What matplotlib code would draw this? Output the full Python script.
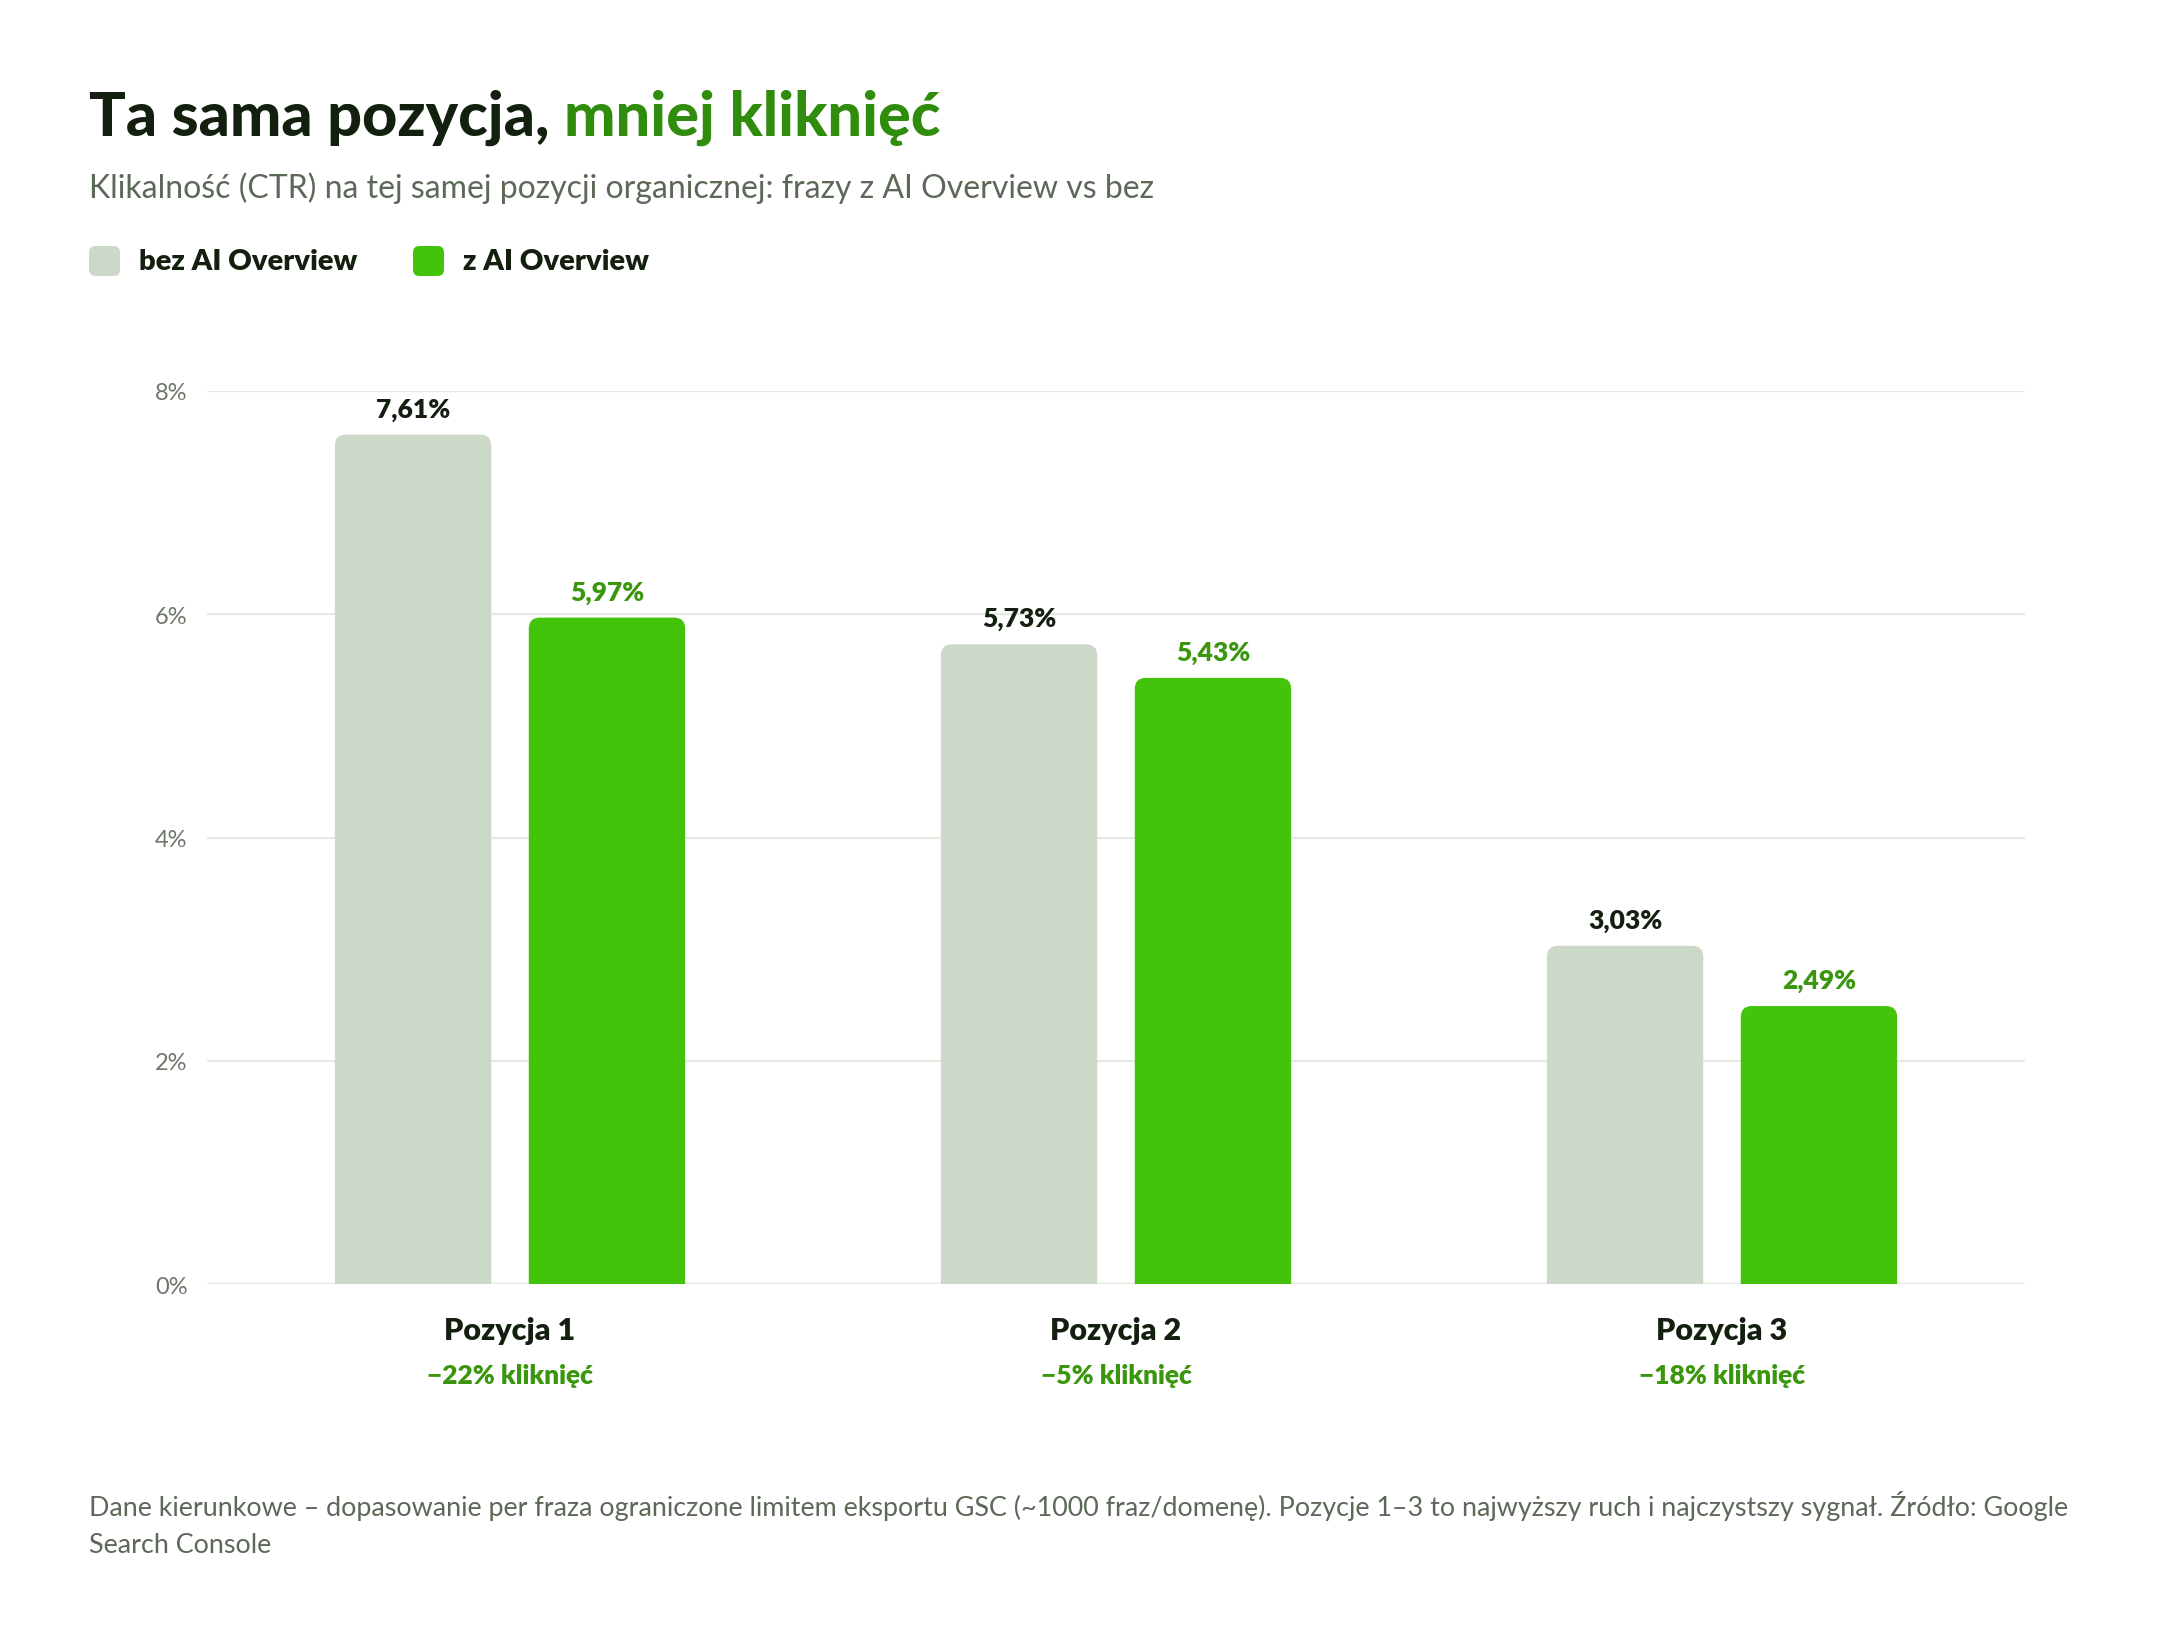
import matplotlib
matplotlib.use("Agg")
import matplotlib.pyplot as plt
from matplotlib.patches import FancyBboxPatch
from matplotlib.transforms import blended_transform_factory

plt.rcParams['font.family'] = ['Lato', 'DejaVu Sans']

categories = ["Pozycja 1", "Pozycja 2", "Pozycja 3"]
changes = ["−22% kliknięć", "−5% kliknięć", "−18% kliknięć"]
series_names = ["bez AI Overview", "z AI Overview"]
bez_ai = [7.61, 5.73, 3.03]
z_ai = [5.97, 5.43, 2.49]
bez_labels = ["7,61%", "5,73%", "3,03%"]
z_labels = ["5,97%", "5,43%", "2,49%"]
yticks = [0, 2, 4, 6, 8]
ytick_labels = ["0%", "2%", "4%", "6%", "8%"]

C_GRAY = "#CDD9C8"
C_GREEN = "#43C40A"
C_GREEN_TXT = "#3A960C"
C_DARK = "#13200F"
C_SUB = "#5C6858"
C_TICK = "#6E776A"
C_GRID = "#E5EAE3"

W, H = 2160, 1640
fig = plt.figure(figsize=(W / 100, H / 100), dpi=100)
fig.patch.set_facecolor("white")

ax_l, ax_r, ax_t, ax_b = 207, 2025, 392, 1285
ax = fig.add_axes([ax_l / W, 1 - ax_b / H, (ax_r - ax_l) / W, (ax_b - ax_t) / H])
ax.set_xlim(-0.5, 2.5)
ax.set_ylim(0, 8)
for s in ax.spines.values():
    s.set_visible(False)
ax.set_yticks(yticks)
ax.set_yticklabels(ytick_labels, fontsize=17, color=C_TICK)
ax.tick_params(axis='y', length=0, pad=14)
ax.set_xticks([])
ax.grid(axis='y', color=C_GRID, linewidth=1.6)
ax.set_axisbelow(True)
ax.axhline(0, color=C_GRID, linewidth=2.5, zorder=1)

x = list(range(len(categories)))
bw = 0.258
off = 0.16

# pixels per data unit
px_x = (ax_r - ax_l) / 3.0
px_y = (ax_b - ax_t) / 8.0
radius_px = 11
rx = radius_px / px_x
aspect = px_x / px_y


def rounded(bars, color):
    for b in bars:
        x0, w, h = b.get_x(), b.get_width(), b.get_height()
        b.remove()
        p = FancyBboxPatch((x0, -0.3), w, h + 0.3,
                           boxstyle=f"round,pad=0,rounding_size={rx}",
                           mutation_aspect=aspect,
                           facecolor=color, edgecolor="none", zorder=2,
                           clip_on=True)
        ax.add_patch(p)


b1 = ax.bar([i - off for i in x], bez_ai, bw, color=C_GRAY)
b2 = ax.bar([i + off for i in x], z_ai, bw, color=C_GREEN)
rounded(b1, C_GRAY)
rounded(b2, C_GREEN)

for i in x:
    ax.annotate(bez_labels[i], (i - off, bez_ai[i]), xytext=(0, 10),
                textcoords="offset points", ha="center", va="bottom",
                fontsize=19, fontweight="heavy", color=C_DARK)
    ax.annotate(z_labels[i], (i + off, z_ai[i]), xytext=(0, 10),
                textcoords="offset points", ha="center", va="bottom",
                fontsize=19, fontweight="heavy", color=C_GREEN_TXT)

tr = blended_transform_factory(ax.transData, ax.transAxes)
for i in x:
    ax.text(i, -0.052, categories[i], transform=tr, ha="center", va="center",
            fontsize=22, fontweight="heavy", color=C_DARK)
    ax.text(i, -0.102, changes[i], transform=tr, ha="center", va="center",
            fontsize=19, fontweight="heavy", color=C_GREEN_TXT)

# Title
t1 = fig.text(89 / W, 1 - 118 / H, "Ta sama pozycja, ", fontsize=44,
              fontweight="black", color=C_DARK, ha="left", va="center")
fig.canvas.draw()
bb = t1.get_window_extent()
fig.text(bb.x1 / W, 1 - 118 / H, "mniej kliknięć", fontsize=44,
         fontweight="black", color="#2F8C0C", ha="left", va="center")

fig.text(89 / W, 1 - 188 / H,
         "Klikalność (CTR) na tej samej pozycji organicznej: frazy z AI Overview vs bez",
         fontsize=23, color=C_SUB, ha="left", va="center")

# Legend
leg_y = 262
for (lx, tx, name, col) in [(89, 139, series_names[0], C_GRAY),
                            (413, 463, series_names[1], C_GREEN)]:
    sq = FancyBboxPatch((lx / W, 1 - (leg_y + 15) / H), 31 / W, 30 / H,
                        boxstyle="round,pad=0,rounding_size=0.003",
                        mutation_aspect=W / H,
                        transform=fig.transFigure, facecolor=col,
                        edgecolor="none")
    fig.patches.append(sq)
    fig.text(tx / W, 1 - leg_y / H, name, fontsize=21, fontweight="heavy",
             color=C_DARK, ha="left", va="center")

fig.text(89 / W, 1 - 1525 / H,
         "Dane kierunkowe – dopasowanie per fraza ograniczone limitem eksportu GSC (~1000 fraz/domenę). "
         "Pozycje 1–3 to najwyższy ruch i najczystszy sygnał. Źródło: Google\nSearch Console",
         fontsize=19.4, color=C_SUB, ha="left", va="center", linespacing=1.6)

fig.savefig("out.png", dpi=100, facecolor="white")
